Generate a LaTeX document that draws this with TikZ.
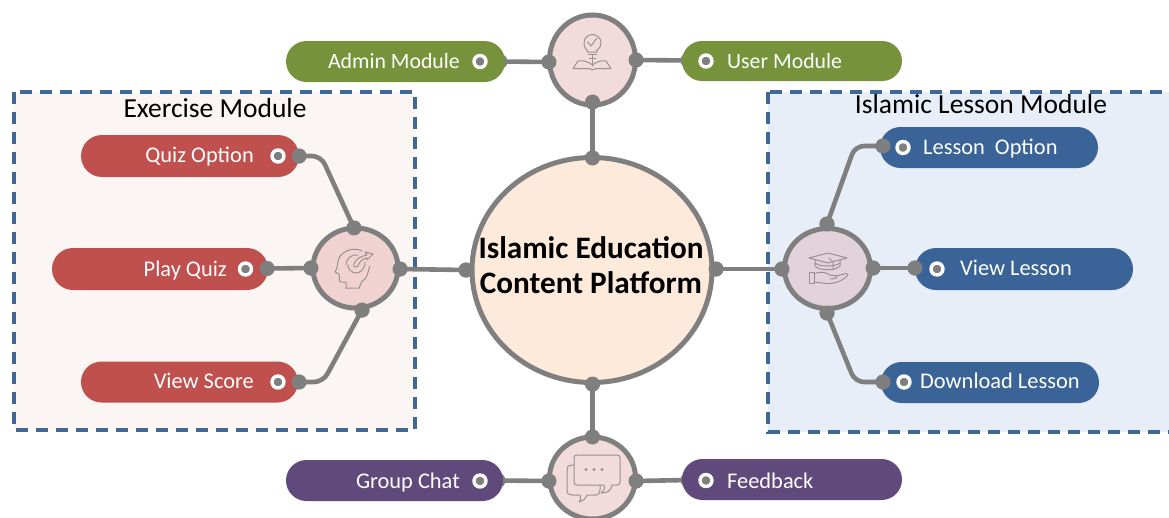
\documentclass[tikz,border=0pt]{standalone}
\usepackage{fontspec}
\setmainfont{Carlito}
\usetikzlibrary{shapes.misc,shapes.geometric}
\definecolor{olivec}{HTML}{76933C}
\definecolor{purplec}{HTML}{604A7B}
\definecolor{redc}{HTML}{C0504D}
\definecolor{bluec}{HTML}{3A6497}
\definecolor{linec}{HTML}{7F7F7F}
\definecolor{dashc}{HTML}{3F6797}
\definecolor{iconc}{HTML}{9A9092}
\definecolor{panelL}{HTML}{FBF5F3}
\definecolor{panelR}{HTML}{E8EEF7}
\definecolor{mainc}{HTML}{FDEADA}
\definecolor{hubA}{HTML}{F2DCDB}
\definecolor{hubL}{HTML}{F0D3D0}
\definecolor{hubR}{HTML}{E2D3DA}
\tikzset{
  panel/.style={draw=dashc,line width=3.3pt,dash pattern=on 12pt off 8pt},
  conn/.style={draw=linec,line width=4.6pt,rounded corners=9pt},
  dot/.style={circle,fill=linec,minimum size=15pt,inner sep=0pt},
  hub/.style={ellipse,draw=linec,line width=5pt,inner sep=0pt},
  pill/.style={rounded rectangle,inner sep=0pt},
  ring/.style={circle,draw=white,line width=3.4pt,fill=linec,minimum size=12pt,inner sep=0pt},
  lab/.style={text=white,font=\fontsize{22.4}{24}\selectfont,inner sep=0pt},
  labs/.style={text=white,font=\fontsize{21.8}{24}\selectfont,inner sep=0pt},
  ttl/.style={text=black,font=\fontsize{27.5}{30}\selectfont,inner sep=0pt},
  icon/.style={draw=iconc,line width=1pt,line cap=round,line join=round},
}
\newcommand{\pillbox}[6]{% name, left, right, y, colour, height
  \node[pill,fill=#5,minimum width=#3pt-#2pt,minimum height=#6pt] (#1) at ({(#2+#3)/2},#4) {};
}
\begin{document}
\begin{tikzpicture}[x=1pt,y=-1pt]
\useasboundingbox (0,0) rectangle (1169,517);
% panels
\path[fill=panelL,panel] (14,92) rectangle (415,430);
\path[fill=panelR,panel] (768,92) rectangle (1175,432);
\node[ttl] (t1) at (215,108) {Exercise Module};
\node[ttl] (t2) at (981,104) {Islamic Lesson Module};
% dots behind the pills
\node[dot] (dUser) at (688,60.5) {};
\node[dot] (dFeed) at (688,480) {};
\node[dot] (dAdmin) at (500,61.5) {};
\node[dot] (dGroup) at (498,480.5) {};
% anchor points on the hubs
\node[dot] (hTopL) at (549,62) {};
\node[dot] (hTopR) at (636,60) {};
\node[dot] (hTopB) at (592.5,102) {};
\node[dot] (cT) at (592.5,158) {};
\node[dot] (cB) at (592.5,384) {};
\node[dot] (cL) at (466,270) {};
\node[dot] (cR) at (716,269) {};
\node[dot] (hBotT) at (592.5,437) {};
\node[dot] (hBotL) at (549,481) {};
\node[dot] (hBotR) at (636,481) {};
\node[dot] (hLR) at (400,269) {};
\node[dot] (hLL) at (311,268) {};
\node[dot] (hLT) at (354,228) {};
\node[dot] (hLB) at (362,310) {};
\node[dot] (hRL) at (782,269) {};
\node[dot] (hRR) at (873,268) {};
\node[dot] (hRT) at (827,224) {};
\node[dot] (hRB) at (827,313) {};
\node[dot] (dQuiz) at (299,156) {};
\node[dot] (dPlay) at (267,268.5) {};
\node[dot] (dScore) at (299,382) {};
\node[dot] (dLess) at (883,146) {};
\node[dot] (dView) at (915,268) {};
\node[dot] (dDown) at (883,382) {};
\coordinate (bQuiz) at (321,156);
\coordinate (bScore) at (323,382);
\coordinate (bLess) at (855,146);
\coordinate (bDown) at (855,382);
% connectors
\draw[conn] (hTopB.center) -- (cT.center);
\draw[conn] (cB.center) -- (hBotT.center);
\draw[conn] (cL.center) -- (hLR.center);
\draw[conn] (cR.center) -- (hRL.center);
\draw[conn] (dAdmin.center) -- (hTopL.center);
\draw[conn] (hTopR.center) -- (dUser.center);
\draw[conn] (dGroup.center) -- (hBotL.center);
\draw[conn] (hBotR.center) -- (dFeed.center);
\draw[conn] (dPlay.center) -- (hLL.center);
\draw[conn] (hRR.center) -- (dView.center);
\draw[conn] (dQuiz.center) -- (bQuiz) -- (hLT.center);
\draw[conn] (dScore.center) -- (bScore) -- (hLB.center);
\draw[conn] (dLess.center) -- (bLess) -- (hRT.center);
\draw[conn] (dDown.center) -- (bDown) -- (hRB.center);
% pills
\pillbox{pAdmin}{286}{505}{61.5}{olivec}{41}
\pillbox{pUser}{682}{902}{61}{olivec}{40}
\pillbox{pGroup}{286}{503}{480.5}{purplec}{41}
\pillbox{pFeed}{682}{902}{479.5}{purplec}{41}
\pillbox{pQuiz}{81}{299}{156}{redc}{42}
\pillbox{pPlay}{52}{268}{269}{redc}{42}
\pillbox{pScore}{81}{298}{382}{redc}{41}
\pillbox{pLess}{880}{1098}{147.5}{bluec}{41}
\pillbox{pView}{915}{1133}{269}{bluec}{42}
\pillbox{pDown}{881}{1099}{382.5}{bluec}{41}
% hub circles
\node[hub,fill=mainc,minimum width=240pt,minimum height=225pt] (main) at (592,270) {};
\node[hub,fill=hubA,minimum width=86pt,minimum height=90pt] (top) at (592.5,60) {};
\node[hub,fill=hubA,minimum width=86pt,minimum height=82pt] (bot) at (592.5,478) {};
\node[hub,fill=hubL,minimum width=85pt,minimum height=80pt] (left) at (355.5,268) {};
\node[hub,fill=hubR,minimum width=86pt,minimum height=80pt] (right) at (827.5,268.5) {};
\node[align=center,inner sep=0pt,text=black,font=\fontsize{31.2}{35}\selectfont\bfseries] (mainText) at (591,265) {Islamic Education\\Content Platform};
% dots on top
\foreach \n in {hTopL,hTopR,hTopB,cT,cB,cL,cR,hBotT,hBotL,hBotR,hLR,hLL,hLT,hLB,hRL,hRR,hRT,hRB,dQuiz,dPlay,dScore,dLess,dView,dDown}
  \fill[linec] (\n) circle (7.5pt);
% rings and labels
\node[ring] (rAdmin) at (480,61.5) {};
\node[ring] (rUser) at (706,61) {};
\node[ring] (rGroup) at (480,481) {};
\node[ring] (rFeed) at (706,480.5) {};
\node[ring] (rQuiz) at (278,156) {};
\node[ring] (rPlay) at (245.5,269) {};
\node[ring] (rScore) at (278,382) {};
\node[ring] (rLess) at (903,147.5) {};
\node[ring] (rView) at (937,269) {};
\node[ring] (rDown) at (904,382) {};
\node[labs,anchor=base east] (lAdmin) at (460,68.5) {Admin Module};
\node[labs,anchor=base west] (lUser) at (727,68.5) {User Module};
\node[lab,anchor=base east] (lGroup) at (460,488) {Group Chat};
\node[lab,anchor=base west] (lFeed) at (727,488) {Feedback};
\node[lab,anchor=base east] (lQuiz) at (254,162) {Quiz Option};
\node[lab,anchor=base east] (lPlay) at (227,276) {Play Quiz};
\node[lab,anchor=base east] (lScore) at (254,388) {View Score};
\node[lab,anchor=base west] (lLess) at (923,154.5) {Lesson~ Option};
\node[lab,anchor=base west] (lView) at (960,275) {View Lesson};
\node[lab,anchor=base west] (lDown) at (920,388) {Download Lesson};
% icon: bulb and book
\begin{scope}[icon]
\draw (588,52) .. controls (586,49) and (584,47) .. (584,43) arc (180:420:8.5) .. controls (596,50) and (597,50) .. (597,52) -- cycle;
\draw (588.5,54.5) -- (596.5,54.5) (592.5,55) -- (592.5,66) (589,58) -- (596,58);
\draw (587.5,42) -- (591,46) -- (597,38);
\draw (573,68.5) -- (578,61) .. controls (584,60) and (589,62) .. (592.5,65) .. controls (596,62) and (601,60) .. (606,61) -- (611,68.5) -- (596,68.5) -- (592.5,70) -- (589,68.5) -- cycle;
\end{scope}
% icon: head with target
\begin{scope}[icon]
\draw (346,288) -- (346,282) -- (341,282) .. controls (338,282) and (340,277) .. (339,274) -- (335,272) .. controls (338,268) and (337,264) .. (339,258) .. controls (343,250) and (355,247) .. (362,251);
\draw (346,288) -- (359,288) .. controls (361,284) and (361,281) .. (365,279) .. controls (368,276) and (368,270) .. (370,266);
\draw (346,265) .. controls (346,258) and (352,254) .. (358,255);
\draw (348,265) .. controls (348,273) and (358,276) .. (363,269) .. controls (365,266) and (365,265) .. (365,262);
\draw (354,264) .. controls (356,258) and (362,256) .. (367,255) -- (365,252) -- (373,254) -- (367,260) -- (367,258) .. controls (362,259) and (359,262) .. (358,266) .. controls (355,268) and (353,267) .. (354,264);
\end{scope}
% icon: cap and hand
\begin{scope}[icon]
\draw (809,258) -- (828,253) -- (847,258) -- (828,263) -- cycle;
\draw (815,260) -- (815,266) .. controls (819,271) and (836,271) .. (840,266) -- (840,260);
\draw (815,263) .. controls (820,267) and (835,267) .. (840,263);
\draw (829,258) -- (833,262) -- (833,270);
\draw (809,272.5) rectangle (814,283);
\draw (814,274) .. controls (820,271) and (825,272) .. (830,275) -- (836,276) .. controls (838,278) and (835,279) .. (830,279);
\draw (836,276) -- (846,273.5) .. controls (849,274) and (848,276) .. (846,277) .. controls (840,282) and (834,284) .. (826,283.5) -- (814,282);
\end{scope}
% icon: chat bubbles
\begin{scope}[icon]
\draw (612,485) -- (617,485) .. controls (619,485) and (620,484) .. (620,482) -- (620,458) .. controls (620,456) and (619,455) .. (617,455) -- (577,455) .. controls (575,455) and (574,456) .. (574,458) -- (574,482) .. controls (574,484) and (575,485) .. (577,485) -- (604,485) .. controls (605,489) and (604,491) .. (601,493) .. controls (607,493) and (611,491) .. (612,485);
\draw (574,465) -- (571,465) .. controls (568,465) and (567,467) .. (567,470) -- (567,490) .. controls (567,494) and (569,495) .. (572,495) -- (580,495) .. controls (581,498) and (581,500) .. (579,502) .. controls (583,501) and (586,498) .. (587,495) -- (596,495) .. controls (599,495) and (600,493) .. (600,490) -- (600,485);
\fill[iconc,draw=none] (586,469.5) circle (1.7pt) (594,469.5) circle (1.7pt) (602,469.5) circle (1.7pt);
\end{scope}
\end{tikzpicture}
\end{document}
